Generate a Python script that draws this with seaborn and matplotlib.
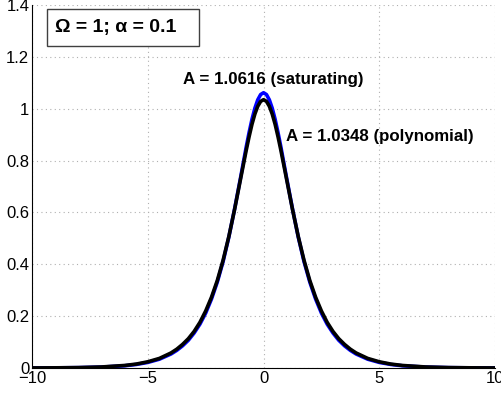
import numpy as np
import pandas as pd
import seaborn as sns
import matplotlib.pyplot as plt
from matplotlib.patches import Rectangle

# values (curves are symmetric around 0)
x_half = [0, 0.125, 0.25, 0.375, 0.5, 0.625, 0.75, 1.0, 1.25, 1.5, 1.75, 2.0,
          2.25, 2.5, 2.75, 3.0, 3.25, 3.5, 3.75, 4.0, 4.5, 5, 5.5, 6, 7, 8, 9, 10]
y_sat_half = [1.0616, 1.0547, 1.0343, 1.0018, 0.959, 0.908, 0.852, 0.731, 0.614,
              0.505, 0.410, 0.331, 0.266, 0.212, 0.169, 0.135, 0.107, 0.0855,
              0.068, 0.054, 0.034, 0.0216, 0.0137, 0.0086, 0.0035, 0.0014,
              0.0006, 0.0002]
y_poly_half = [1.0348, 1.0284, 1.0095, 0.9795, 0.940, 0.892, 0.839, 0.726, 0.612,
               0.507, 0.415, 0.337, 0.273, 0.220, 0.176, 0.141, 0.113, 0.091,
               0.0726, 0.058, 0.037, 0.024, 0.0152, 0.0098, 0.004, 0.0016,
               0.0007, 0.0003]

x_vals = [-v for v in x_half[:0:-1]] + x_half
y_sat = y_sat_half[:0:-1] + y_sat_half
y_poly = y_poly_half[:0:-1] + y_poly_half

x_ticks = [-10, -5, 0, 5, 10]
x_labels = ["\u221210", "\u22125", "0", "5", "10"]
y_ticks = [0, 0.2, 0.4, 0.6, 0.8, 1.0, 1.2, 1.4]
y_labels = ["0", "0.2", "0.4", "0.6", "0.8", "1", "1.2", "1.4"]

df = pd.DataFrame({"x": x_vals, "sat": y_sat, "poly": y_poly})

sns.set_style("white")
plt.rcParams["font.family"] = ["Liberation Sans", "DejaVu Sans"]
plt.rcParams["text.color"] = "black"

fig = plt.figure(figsize=(5.02, 3.96), dpi=100)
ax = fig.add_axes([0.064, 0.0707, 0.922, 0.9167])

sns.lineplot(data=df, x="x", y="sat", color="#0000ff", lw=2.6, ax=ax)
sns.lineplot(data=df, x="x", y="poly", color="black", lw=2.6, ax=ax)

ax.set_xlim(-10, 10)
ax.set_ylim(0, 1.4)
ax.set_xticks(x_ticks)
ax.set_xticklabels(x_labels)
ax.set_yticks(y_ticks)
ax.set_yticklabels(y_labels)
ax.set_xlabel("")
ax.set_ylabel("")
ax.grid(True, color="#b0b0b0", linestyle=(0, (1, 3)), linewidth=0.8)
ax.tick_params(direction="in", length=4, width=0.8, labelsize=12, pad=2,
               colors="black")
for side in ["top", "right"]:
    ax.spines[side].set_visible(False)
for side in ["left", "bottom"]:
    ax.spines[side].set_color("black")
    ax.spines[side].set_linewidth(0.8)

# parameter box
ax.add_patch(Rectangle((0.0324, 0.887), 0.328, 0.102, transform=ax.transAxes,
                       facecolor="white", edgecolor="#404040", lw=1, zorder=5))
ax.text(0.050, 0.938, "\u03a9 = 1; \u03b1 = 0.1", transform=ax.transAxes,
        fontsize=14, fontweight="bold", va="center", ha="left", zorder=6,
        color="black")

ax.text(-3.48, 1.111, "A = 1.0616 (saturating)", fontsize=12.2,
        fontweight="bold", va="center", ha="left", color="black")
ax.text(0.97, 0.892, "A = 1.0348 (polynomial)", fontsize=12.2,
        fontweight="bold", va="center", ha="left", color="black")

fig.savefig("out.png", dpi=100)
